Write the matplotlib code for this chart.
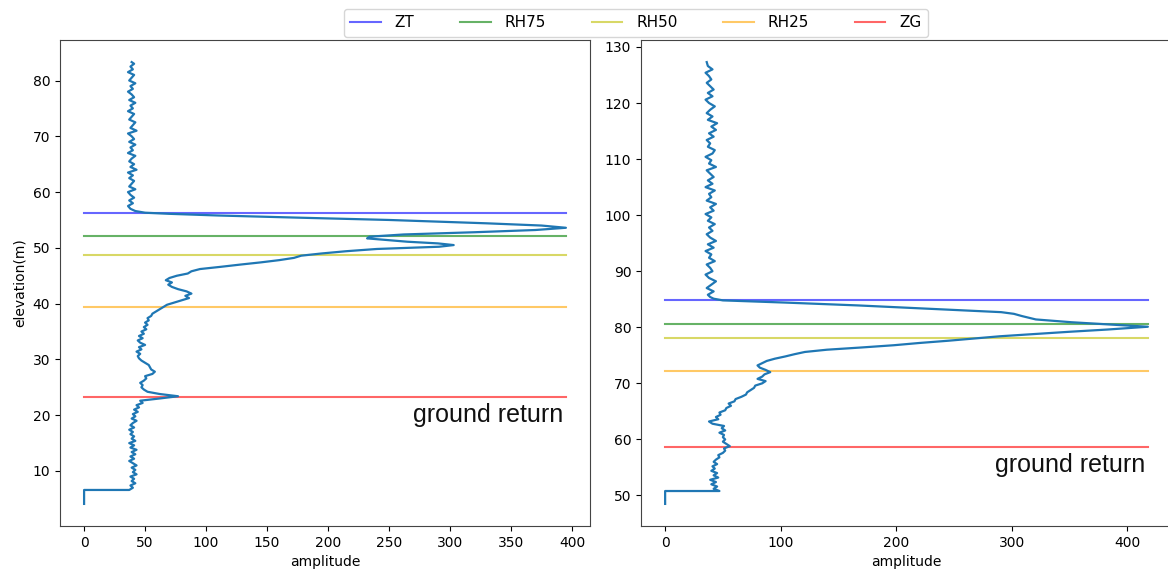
import matplotlib.pyplot as plt

# waveform, left plot (elevation in m, amplitude)
elev_left = [4.1, 6.6, 6.6, 7.0, 7.4, 7.8, 8.2, 8.6, 9.0, 9.4, 9.8, 10.2,
             10.6, 11.0, 11.4, 11.8, 12.2, 12.6, 13.0, 13.4, 13.8, 14.2,
             14.6, 15.0, 15.4, 15.8, 16.2, 16.6, 17.0, 17.4, 17.8, 18.2,
             18.6, 19.0, 19.4, 19.8, 20.2, 20.6, 21.0, 21.4, 21.8, 22.2,
             22.6,
             23.0, 23.4, 23.8, 24.2, 24.6, 25.0, 25.4, 25.8, 26.2, 26.6,
             27.0, 27.4, 27.8, 28.2, 28.6, 29.0, 29.4, 29.8, 30.2, 30.6,
             31.0, 31.4, 31.8, 32.2, 32.6, 33.0, 33.4, 33.8, 34.2, 34.6,
             35.0, 35.4, 35.8, 36.2, 36.6, 37.0, 37.4, 37.8, 38.2, 38.6,
             39.0, 39.4, 39.8, 40.2, 40.6, 41.0, 41.4, 41.8, 42.2, 42.6,
             43.0, 43.4, 43.8, 44.2, 44.6, 45.0, 45.4, 45.8, 46.2, 46.6,
             47.0, 47.4, 47.8, 48.2, 48.6, 49.0, 49.4, 49.8, 50.2,
             50.5, 50.8, 51.1, 51.4, 51.7, 52.0,
             52.4, 52.8, 53.2, 53.6, 54.0, 54.4,
             54.7, 55.0, 55.4, 55.8, 56.1, 56.3, 56.6, 57.0,
             57.5, 58.0, 58.5, 59.0, 59.5, 60.0, 60.5, 61.0, 61.5, 62.0,
             62.5, 63.0, 63.5, 64.0, 64.5, 65.0, 65.5, 66.0, 66.5, 67.0,
             67.5, 68.0, 68.5, 69.0, 69.5, 70.0, 70.5, 71.0, 71.5, 72.0,
             72.5, 73.0, 73.5, 74.0, 74.5, 75.0, 75.5, 76.0, 76.5, 77.0,
             77.5, 78.0, 78.5, 79.0, 79.5, 80.0, 80.5, 81.0, 81.5, 82.0,
             82.5, 83.0, 83.3]
amp_left = [0, 0, 37, 40, 38, 42, 39, 41, 38, 43, 40, 42,
            39, 43, 40, 37, 41, 38, 42, 39, 43, 38,
            41, 37, 42, 39, 41, 38, 40, 37, 41, 38,
            40, 43, 39, 42, 40, 44, 41, 45, 43, 48,
            46,
            62, 77, 62, 52, 49, 47, 48, 46, 49, 51,
            50, 56, 58, 55, 54, 53, 50, 47, 45, 44,
            46, 43, 47, 45, 50, 46, 44, 48, 45, 49,
            47, 51, 49, 52, 50, 53, 52, 55, 56, 59,
            62, 65, 68, 74, 80, 86, 83, 88, 84, 77,
            72, 69, 72, 67, 70, 76, 85, 88, 95, 112,
            128, 145, 160, 172, 178, 195, 215, 240, 291,
            303, 290, 265, 248, 232, 234,
            262, 320, 370, 395, 375, 330,
            291, 250, 178, 110, 70, 50, 42, 38,
            36, 40, 37, 41, 38, 36, 42, 37, 39, 41,
            37, 40, 36, 43, 38, 41, 37, 39, 42, 36,
            40, 38, 42, 37, 41, 39, 36, 43, 38, 40,
            42, 37, 39, 41, 36, 40, 38, 42, 37, 41,
            39, 36, 40, 38, 42, 37, 39, 41, 36, 40,
            38, 41, 39]

# waveform, right plot
elev_right = [48.5, 50.8, 50.8,
              51.2, 51.6, 52.0, 52.4, 52.8, 53.2, 53.6, 54.0, 54.4, 54.8,
              55.2, 55.6, 56.0, 56.4, 56.8, 57.2, 57.6, 58.0, 58.4, 58.8,
              59.2, 59.6, 60.0, 60.4, 60.8, 61.2, 61.6, 62.0, 62.4, 62.8,
              63.2, 63.6, 64.0, 64.4, 64.8, 65.2, 65.6, 66.0, 66.4, 66.8,
              67.2, 67.6, 68.0, 68.4, 68.8, 69.2, 69.6, 70.0, 70.4, 70.8,
              71.2, 71.6, 72.0, 72.4, 72.8, 73.2, 73.6, 74.0, 74.4, 74.8,
              75.2, 75.6, 76.0, 76.4, 76.8, 77.2, 77.6, 78.0, 78.4, 78.8,
              79.2, 79.6,
              80.1, 80.5, 80.9, 81.4, 82.0, 82.4, 82.7, 83.3, 83.9, 84.4,
              84.8, 85.1, 85.4,
              85.8, 86.4, 87.0, 87.6, 88.2, 88.8, 89.4, 90.0, 90.6, 91.2,
              91.8, 92.4, 93.0, 93.6, 94.2, 94.8, 95.4, 96.0, 96.6, 97.2,
              97.8, 98.4, 99.0, 99.6, 100.2, 100.8, 101.4, 102.0, 102.6, 103.2,
              103.8, 104.4, 105.0, 105.6, 106.2, 106.8, 107.4, 108.0, 108.6, 109.2,
              109.8, 110.4, 111.0, 111.6, 112.2, 112.8, 113.4, 114.0, 114.6, 115.2,
              115.8, 116.4, 117.0, 117.6, 118.2, 118.8, 119.4, 120.0, 120.6, 121.2,
              121.8, 122.4, 123.0, 123.6, 124.2, 124.8, 125.4, 126.0, 126.6, 127.3]
amp_right = [0, 0, 47,
             42, 45, 40, 44, 39, 46, 42, 45, 40, 43,
             41, 45, 42, 44, 47, 46, 50, 52, 51, 56,
             53, 50, 52, 50, 51, 47, 52, 49, 51, 41,
             38, 46, 44, 48, 47, 52, 53, 57, 55, 60,
             61, 66, 70, 71, 74, 77, 78, 84, 87, 80,
             84, 86, 91, 87, 82, 80, 84, 88, 95, 104,
             112, 121, 140, 170, 198, 220, 245, 268, 290, 320,
             350, 383,
             418, 385, 352, 321, 309, 302, 291, 229, 167, 105,
             50, 42, 39,
             37, 42, 36, 40, 44, 38, 35, 41, 39, 36,
             43, 38, 40, 35, 42, 37, 44, 39, 36, 41,
             38, 43, 37, 40, 35, 42, 39, 44, 36, 40,
             38, 43, 35, 41, 37, 42, 39, 36, 44, 38,
             40, 35, 41, 43, 37, 39, 36, 42, 38, 44,
             40, 45, 37, 41, 36, 39, 43, 38, 35, 41,
             37, 42, 39, 36, 40, 38, 35, 41, 37, 36]

# height metrics
metric_names = ['ZT', 'RH75', 'RH50', 'RH25', 'ZG']
metric_colors = ['blue', 'green', 'y', 'orange', 'red']
metrics_left = [56.3, 52.2, 48.8, 39.4, 23.3]
metrics_right = [84.8, 80.6, 78.1, 72.2, 58.7]

assert len(elev_left) == len(amp_left)
assert len(elev_right) == len(amp_right)

W, H = 1168, 573
fig = plt.figure(figsize=(W / 100, H / 100), dpi=100)
ax1 = fig.add_axes([60 / W, 47 / H, 530 / W, 486 / H])
ax2 = fig.add_axes([641 / W, 47 / H, 531 / W, 486 / H])

panels = [(ax1, elev_left, amp_left, metrics_left),
          (ax2, elev_right, amp_right, metrics_right)]

handles = []
for ax, elev, amp, metrics in panels:
    top = max(amp)
    lines = []
    for z, c in zip(metrics, metric_colors):
        ln, = ax.plot([0, top], [z, z], color=c, alpha=0.6, lw=1.5)
        lines.append(ln)
    handles = lines
    ax.plot(amp, elev, color='#1f77b4', lw=1.6)
    ax.set_xlabel('amplitude')
    ax.text(top - 2, metrics[-1] - 3.3, 'ground return', ha='right', va='center',
            fontsize=18, family='Liberation Sans', color='#111111')
    for s in ax.spines.values():
        s.set_color('#444444')

ax1.set_ylabel('elevation(m)')
ax1.set_xticks(range(0, 401, 50))
ax2.set_xticks(range(0, 401, 100))

fig.legend(handles, metric_names, loc='upper center',
           bbox_to_anchor=(0.5445, 0.997), ncol=5, columnspacing=3.0,
           handlelength=2.0, handletextpad=0.9, fontsize=11)

fig.savefig('out.png', dpi=100)
